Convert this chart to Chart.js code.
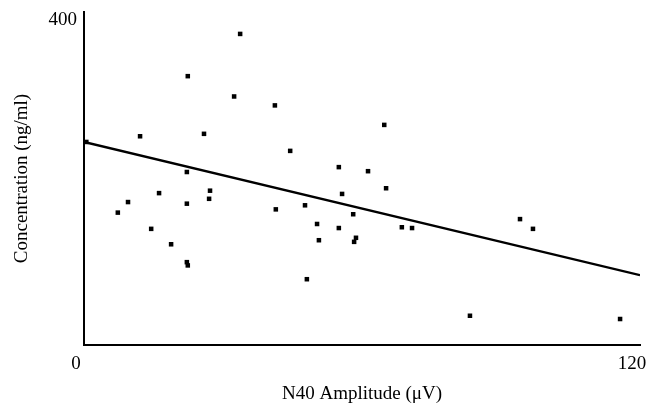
<!DOCTYPE html>
<html>
<head>
<meta charset="utf-8">
<script src="https://cdn.jsdelivr.net/npm/chart.js@4"></script>
<style>
  html, body { margin: 0; padding: 0; background: #fff; }
  #wrap { width: 658px; height: 408px; }
</style>
</head>
<body>
<div id="wrap"><canvas id="chart" width="658" height="408"></canvas></div>
<script>
// N40 amplitude (µV) vs concentration (ng/ml)
const amplitude = [0.5, 12.1, 22.4, 33.7, 32.4, 25.9, 22.2, 41.2, 44.5, 64.8,
  55.0, 61.3, 65.2, 27.2, 16.2, 9.5, 7.3, 22.2, 27.0, 14.5,
  18.8, 22.2, 22.4, 41.4, 47.7, 55.7, 50.3, 50.7, 55.0, 58.1,
  58.7, 58.3, 68.6, 70.8, 48.1, 94.1, 96.9, 83.3, 115.7];
const concentration = [250, 257, 331, 383, 306, 260, 213, 295, 239, 271,
  219, 214, 193, 190, 187, 176, 163, 174, 180, 143,
  124, 102, 98, 167, 172, 186, 149, 129, 144, 161,
  132, 127, 145, 144, 81, 155, 143, 36, 32];

// regression line end points
const fitX = [0, 120];
const fitY = [250, 86];

const xTicks = [0, 120];
const yTicks = [400];

const serif = "'Liberation Serif', 'DejaVu Serif', serif";

const points = amplitude.map((x, i) => ({ x: x, y: concentration[i] }));
const fit = fitX.map((x, i) => ({ x: x, y: fitY[i] }));

new Chart(document.getElementById("chart"), {
  type: "scatter",
  data: {
    datasets: [
      {
        data: points,
        pointStyle: "rect",
        pointRadius: 3.2,
        pointBorderWidth: 0,
        backgroundColor: "#000",
        borderColor: "#000",
      },
      {
        type: "line",
        data: fit,
        borderColor: "#000",
        borderWidth: 2.4,
        pointRadius: 0,
        fill: false,
      },
    ],
  },
  options: {
    responsive: false,
    animation: false,
    layout: { padding: { top: 12, right: 18, left: 0, bottom: 0 } },
    plugins: { legend: { display: false }, tooltip: { enabled: false } },
    scales: {
      x: {
        type: "linear",
        min: 0,
        max: 120,
        afterBuildTicks: (s) => { s.ticks = xTicks.map((v) => ({ value: v })); },
        afterFit: (s) => {
          s.height = 63;
          s.paddingLeft = 0;
          s.paddingRight = 0;
        },
        grid: { display: false, drawTicks: false },
        border: { color: "#000", width: 2 },
        ticks: { color: "#000", padding: 8, labelOffset: -8, maxRotation: 0,
          font: { family: serif, size: 19 } },
        title: { display: true, text: "N40 Amplitude (μV)", color: "#000",
          padding: { top: 0, bottom: 3 }, font: { family: serif, size: 19 } },
      },
      y: {
        min: 0,
        max: 410,
        afterBuildTicks: (s) => { s.ticks = yTicks.map((v) => ({ value: v })); },
        afterFit: (s) => {
          s.width = 84;
          s.paddingTop = 0;
          s.paddingBottom = 0;
        },
        grid: { display: false, drawTicks: false },
        border: { color: "#000", width: 2 },
        ticks: { color: "#000", padding: 7, font: { family: serif, size: 19 } },
        title: { display: true, text: "Concentration (ng/ml)", color: "#000",
          padding: { top: 11, bottom: 0 }, font: { family: serif, size: 19 } },
      },
    },
  },
});
</script>
</body>
</html>
